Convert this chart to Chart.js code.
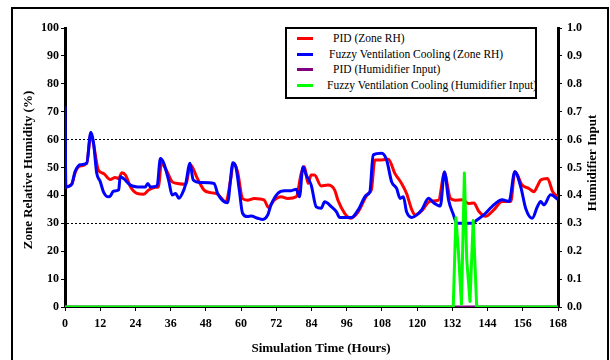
<!DOCTYPE html>
<html>
<head>
<meta charset="utf-8">
<script src="https://cdn.jsdelivr.net/npm/chart.js@4.4.1/dist/chart.umd.min.js"></script>
<style>
  body { margin: 0; background: #fff; overflow: hidden; }
  #wrap { position: relative; width: 610px; height: 360px; }
  #frame { position: absolute; left: 11px; top: 7px; width: 594px; height: 400px; border: 2px solid #000; pointer-events: none; }
  #legend { position: absolute; left: 285px; top: 27px; width: 248px; height: 68px; border: 2px solid #000; background: #fff;
            font-family: "Liberation Serif", "Times New Roman", serif; font-size: 11.5px; color: #000; overflow: hidden; }
  .row { position: absolute; left: 0; right: 0; height: 16px; line-height: 16px; white-space: nowrap; }
  .swatch { position: absolute; left: 10px; top: 7px; width: 16px; height: 3px; }
  .label { position: absolute; }
</style>
</head>
<body>
<div id="wrap">
  <canvas id="rhChart" width="610" height="360"></canvas>
  <div id="legend"></div>
  <div id="frame"></div>
</div>
<script>
// PID controller - zone relative humidity (%)
const pidRhTime = [0, 2.3, 3.4, 5, 7.4, 8.8, 9.7, 11.4, 13.1, 15.4, 17.1, 18.3, 19.4, 20.6, 22.3, 24.5, 26.8, 28.5, 30.8, 31.9,
  32.8, 34.8, 36.5, 38.3, 41.1, 42.8, 45.1, 47.4, 49.6, 51.9, 54.8, 56.5, 57.3, 58.8, 60.5, 62.2, 64.5, 67.9, 69.3, 71.3,
  73.6, 75.9, 78.8, 80.5, 81.6, 82.8, 83.9, 85, 87.3, 89.6, 91.9, 93, 95.3, 97.4, 99.9, 103.3, 104.4, 105.6, 107.9, 110.2,
  112.4, 114.7, 116.4, 118.2, 119.3, 121.6, 124.4, 127.3, 129.3, 131.3, 133, 135.3, 137.5, 139.3, 141, 143.3, 146.1, 149, 151.9, 153.3,
  155.8, 158.1, 159.8, 161, 162.1, 164.4, 166.2, 168];
const pidRh = [43, 44, 48, 50.5, 51.5, 62, 58.5, 49, 47.9, 45.7, 46.4, 46.1, 48.1, 47.3, 43.1, 40.7, 40.4, 41.9, 42.9, 43,
  51.5, 48.5, 44.9, 44.3, 44, 50.9, 46.1, 41.9, 41, 40.5, 37.7, 46, 51.4, 48.5, 38.9, 38.3, 38.9, 38.3, 35.7, 38.3,
  39.5, 38.9, 39.5, 47.9, 50.3, 44.3, 47.3, 47.3, 43.4, 43.7, 41.9, 38.3, 33.6, 31.8, 34.1, 40.7, 42, 52.7, 52.7, 53,
  47.9, 44.3, 40.7, 34.8, 33, 34.5, 37.9, 38.3, 47.9, 39, 38.3, 38.4, 37.1, 37.3, 34.3, 32.5, 34.8, 37.8, 37.8, 48.5,
  43.7, 42.5, 41.3, 43.4, 45.5, 46.1, 41.3, 39.5];

// Fuzzy ventilation cooling - zone relative humidity (%)
const fuzzyRhTime = [0, 0.3, 2.3, 3.4, 4.5, 5.1, 7.4, 8.8, 9.7, 10.8, 12, 13.1, 14.8, 15.6, 16.5, 18.3, 18.8, 20, 22.3, 25.7,
  27.4, 28.2, 29.1, 31.4, 32.5, 33.7, 35.4, 36.5, 37.7, 38.8, 40.5, 41.1, 42.6, 43.7, 46.2, 50.8, 52, 55.4, 56.5, 57.1,
  58.2, 59.4, 60.5, 62.2, 63.4, 65.7, 67.4, 69.1, 70.2, 72.5, 74.8, 77.1, 78.8, 79.9, 81.1, 82.2, 83.9, 85.6, 87.3, 88.5,
  90.8, 92.5, 93.6, 97.6, 99.9, 102.7, 103.9, 105, 107.9, 109.6, 111.3, 113, 114.2, 115.3, 116.4, 118.2, 119.9, 121.6, 123.9, 125.6,
  127.9, 129.3, 130.7, 132.4, 133.5, 138.7, 140.4, 142.7, 145.5, 149, 151.3, 153.3, 155.3, 157, 159.2, 161, 162.1, 163.2, 165.5, 168];
const fuzzyRh = [72, 43, 44, 48.5, 50.5, 51, 51.5, 62.6, 59, 48, 45, 41.3, 39.5, 40, 41.5, 42, 46.7, 46, 43.7, 43,
  43, 44.3, 43, 43.4, 53.2, 51.4, 45, 40.1, 40.7, 39, 42, 44, 51.5, 45.5, 44.6, 44.3, 40.7, 37.4, 46.6, 51.7,
  50.3, 41.9, 33.6, 32.4, 32.6, 31.8, 31.4, 33, 36.6, 40.7, 41.7, 41.7, 42.2, 39.5, 50.3, 47.3, 43.7, 35.9, 35.4, 37.7,
  35.9, 34.1, 32.1, 32.1, 34.8, 40.1, 41.3, 54.5, 55.1, 52.7, 44.9, 42.5, 38.9, 39.5, 34.1, 32.1, 33, 34.9, 39, 37.4,
  36.2, 48.5, 38.4, 33, 30, 30, 31.2, 33, 36, 38.4, 37.8, 48.5, 43.1, 35.3, 31.8, 36, 37.8, 36.6, 40.2, 38.5];

// Humidifier input (0 - 1)
const pidHumTime = [0, 168];
const pidHum = [0, 0];
const fuzzyHumTime = [0, 132.3, 133.2, 134, 135.1, 136.1, 136.9, 138, 139.1, 140.3, 168];
const fuzzyHum = [0, 0, 0.32, 0.21, 0.01, 0.48, 0.17, 0.02, 0.31, 0, 0];

const seriesLabels = ['PID (Zone RH)', 'Fuzzy Ventilation Cooling (Zone RH)', 'PID (Humidifier Input)', 'Fuzzy Ventilation Cooling (Humidifier Input)'];
const seriesColors = ['#ff0000', '#0000ff', '#800080', '#00ff00'];
const refLines = [30, 60];

const xTitle = 'Simulation Time (Hours)';
const yTitle = 'Zone Relative Humidity (%)';
const y1Title = 'Humidifier Input';

const serif = '"Liberation Serif", "Times New Roman", serif';

function toPoints(times, values) {
  return times.map((t, i) => ({ x: t, y: values[i] }));
}

// axis titles drawn on the canvas (right one reads bottom-to-top like the left)
const axisTitles = {
  id: 'axisTitles',
  afterDraw(chart) {
    const ctx = chart.ctx;
    ctx.save();
    ctx.fillStyle = '#000';
    ctx.font = 'bold 13px ' + serif;
    ctx.textAlign = 'center';
    ctx.textBaseline = 'middle';
    ctx.fillText(xTitle, 321, 349);
    ctx.save();
    ctx.translate(29, 170);
    ctx.rotate(-Math.PI / 2);
    ctx.fillText(yTitle, 0, 0);
    ctx.restore();
    ctx.translate(593, 163);
    ctx.rotate(-Math.PI / 2);
    ctx.fillText(y1Title, 0, 0);
    ctx.restore();
  }
};

const tickFont = { family: serif, size: 12, weight: 'bold' };

const chart = new Chart(document.getElementById('rhChart').getContext('2d'), {
  type: 'line',
  data: {
    datasets: [
      { label: seriesLabels[0], data: toPoints(pidRhTime, pidRh), borderColor: seriesColors[0], borderWidth: 3,
        yAxisID: 'y', order: 3, cubicInterpolationMode: 'monotone' },
      { label: seriesLabels[1], data: toPoints(fuzzyRhTime, fuzzyRh), borderColor: seriesColors[1], borderWidth: 3,
        yAxisID: 'y', order: 2, cubicInterpolationMode: 'monotone' },
      { label: seriesLabels[2], data: toPoints(pidHumTime, pidHum), borderColor: seriesColors[2], borderWidth: 3,
        yAxisID: 'y1', order: 1 },
      { label: seriesLabels[3], data: toPoints(fuzzyHumTime, fuzzyHum), borderColor: seriesColors[3], borderWidth: 3,
        yAxisID: 'y1', order: 0 }
    ]
  },
  options: {
    responsive: false,
    animation: false,
    events: [],
    layout: { padding: { top: 28, left: 0, right: 0, bottom: 0 } },
    elements: { point: { radius: 0 }, line: { borderJoinStyle: 'round', borderCapStyle: 'butt' } },
    plugins: { legend: { display: false }, tooltip: { enabled: false } },
    scales: {
      x: {
        type: 'linear', min: 0, max: 168,
        ticks: { stepSize: 12, color: '#000', font: tickFont, padding: 6, maxRotation: 0 },
        grid: { drawOnChartArea: false, tickLength: 4, tickColor: '#000' },
        border: { color: '#000', width: 2 },
        afterFit: s => { s.height = 53; }
      },
      y: {
        position: 'left', min: 0, max: 100,
        ticks: { stepSize: 10, color: '#000', font: tickFont, padding: 2 },
        grid: {
          color: c => refLines.includes(c.tick && c.tick.value) ? '#000' : 'rgba(0,0,0,0)',
          lineWidth: 1, tickLength: 4, tickColor: '#000'
        },
        border: { color: '#000', width: 3, dash: [2, 2] },
        afterFit: s => { s.width = 65; }
      },
      y1: {
        position: 'right', min: 0, max: 1,
        ticks: { stepSize: 0.1, color: '#000', font: tickFont, padding: 5, callback: v => v.toFixed(1) },
        grid: { drawOnChartArea: false, tickLength: 4, tickColor: '#000' },
        border: { color: '#000', width: 3 },
        afterFit: s => { s.width = 52; }
      }
    }
  },
  plugins: [axisTitles]
});

// legend box built from the datasets
const legendIndent = [46, 42, 46, 40];
const legendEl = document.getElementById('legend');
chart.data.datasets.forEach((ds, i) => {
  const row = document.createElement('div');
  row.className = 'row';
  row.style.top = (1 + i * 15.7) + 'px';
  const sw = document.createElement('span');
  sw.className = 'swatch';
  sw.style.background = ds.borderColor;
  const lb = document.createElement('span');
  lb.className = 'label';
  lb.style.left = legendIndent[i] + 'px';
  lb.textContent = ds.label;
  row.appendChild(sw);
  row.appendChild(lb);
  legendEl.appendChild(row);
});
</script>
</body>
</html>
